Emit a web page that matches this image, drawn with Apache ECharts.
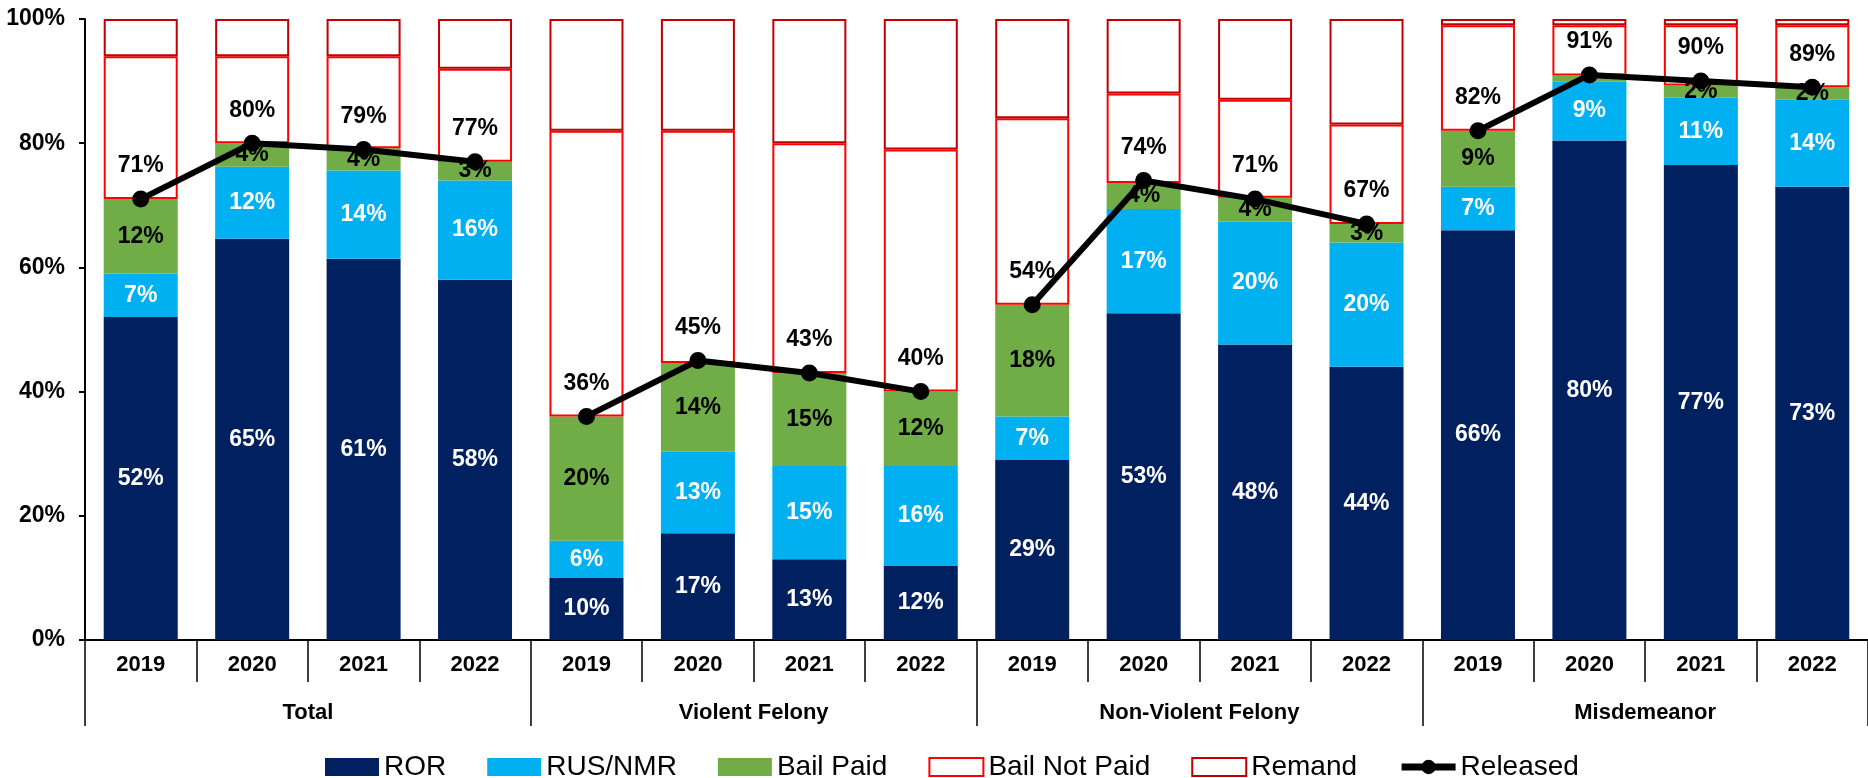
<!DOCTYPE html>
<html>
<head>
<meta charset="utf-8">
<script src="https://cdn.jsdelivr.net/npm/echarts@6/dist/echarts.min.js"></script>
<style>
html,body{margin:0;padding:0;background:#fff;}
#chart{width:1868px;height:778px;}
</style>
</head>
<body>
<div id="chart"></div>
<script>
const years = ['2019','2020','2021','2022','2019','2020','2021','2022','2019','2020','2021','2022','2019','2020','2021','2022'];
const groups = ['Total','Violent Felony','Non-Violent Felony','Misdemeanor'];
const yTicks = [0, 20, 40, 60, 80, 100];

const ror         = [52, 64.6, 61.4, 58, 10, 17.2, 13, 12, 29, 52.6, 47.6, 44, 66, 80.45, 76.5, 73];
const rusNmr      = [7, 11.6, 14.2, 16, 6, 13.1, 15, 16, 7, 16.8, 19.8, 20, 7, 9.45, 10.8, 14];
const bailPaid    = [12, 3.8, 3.6, 3, 20, 14.3, 15, 12, 18, 4.2, 3.8, 3, 9, 1.0, 2, 2];
const bailNotPaid = [23, 14, 14.8, 15, 46, 37.4, 37, 39, 30, 14.4, 15.8, 16, 17, 8.1, 9.7, 10];
const remand      = [6, 6, 6, 8, 18, 18, 20, 21, 16, 12, 13, 17, 1, 1, 1, 1];
const released    = [71, 80, 79, 77, 36, 45, 43, 40, 54, 74, 71, 67, 82, 91, 90, 89];

const FONT = "'Liberation Sans', Arial, sans-serif";
const chart = echarts.init(document.getElementById('chart'));

function segLabel(color) {
  return {
    show: true, position: 'inside', color: color, fontFamily: FONT,
    fontWeight: 'bold', fontSize: 23,
    formatter: p => (p.value >= 1.5 ? Math.round(p.value) + '%' : '')
  };
}

const perGroup = years.length / groups.length;
const releasedSeries = groups.map((g, gi) => ({
  name: 'Released', type: 'line', z: 10,
  data: released.map((v, i) => (Math.floor(i / perGroup) === gi ? v : '-')),
  connectNulls: false,
  symbol: 'circle', symbolSize: 17,
  lineStyle: { color: '#000', width: 6 },
  itemStyle: { color: '#000' },
  label: { show: true, position: 'top', distance: 13, color: '#000', fontFamily: FONT,
           fontWeight: 'bold', fontSize: 23, formatter: p => p.value + '%' }
}));

const option = {
  animation: false,
  backgroundColor: '#fff',
  grid: { left: 85, top: 19, width: 1792, height: 621, containLabel: false },
  legend: {
    left: 320, top: 748, itemWidth: 54, itemHeight: 18, itemGap: 41,
    textStyle: { fontFamily: FONT, fontSize: 28, color: '#000' },
    data: [
      { name: 'ROR', icon: 'rect' },
      { name: 'RUS/NMR', icon: 'rect' },
      { name: 'Bail Paid', icon: 'rect' },
      { name: 'Bail Not Paid', icon: 'rect' },
      { name: 'Remand', icon: 'rect' },
      { name: 'Released', lineStyle: { width: 7, color: '#000' } }
    ]
  },
  xAxis: [
    {
      type: 'category', data: years, position: 'bottom',
      axisLine: { lineStyle: { color: '#000', width: 2 } },
      axisTick: { show: true, interval: 0, length: 42, lineStyle: { color: '#000', width: 1.5 } },
      axisLabel: { interval: 0, margin: 14, color: '#000', fontFamily: FONT, fontWeight: 'bold', fontSize: 22 }
    },
    {
      type: 'category', data: groups, position: 'bottom', offset: 0,
      axisLine: { show: false },
      axisTick: { show: true, interval: 0, length: 86, lineStyle: { color: '#000', width: 1.5 } },
      axisLabel: { interval: 0, margin: 62, color: '#000', fontFamily: FONT, fontWeight: 'bold', fontSize: 22 }
    }
  ],
  yAxis: {
    type: 'value', min: yTicks[0], max: yTicks[yTicks.length - 1], interval: 20,
    splitLine: { show: false },
    axisLine: { show: true, lineStyle: { color: '#000', width: 2 } },
    axisTick: { show: true, length: 6, lineStyle: { color: '#000', width: 2 } },
    axisLabel: { formatter: '{value}%', margin: 20, color: '#000', fontFamily: FONT, fontWeight: 'bold', fontSize: 23 }
  },
  series: [
    { name: 'ROR', type: 'bar', stack: 's', barWidth: 74, data: ror,
      itemStyle: { color: '#002060' }, label: segLabel('#fff') },
    { name: 'RUS/NMR', type: 'bar', stack: 's', barWidth: 74, data: rusNmr,
      itemStyle: { color: '#00B0F0' }, label: segLabel('#fff') },
    { name: 'Bail Paid', type: 'bar', stack: 's', barWidth: 74, data: bailPaid,
      itemStyle: { color: '#70AD47' }, label: segLabel('#000') },
    { name: 'Bail Not Paid', type: 'bar', stack: 's', barWidth: 74, data: bailNotPaid,
      itemStyle: { color: '#fff', borderColor: '#FF0000', borderWidth: 2 } },
    { name: 'Remand', type: 'bar', stack: 's', barWidth: 74, data: remand,
      itemStyle: { color: '#fff', borderColor: '#C00000', borderWidth: 2 } }
  ].concat(releasedSeries)
};
chart.setOption(option);
</script>
</body>
</html>
